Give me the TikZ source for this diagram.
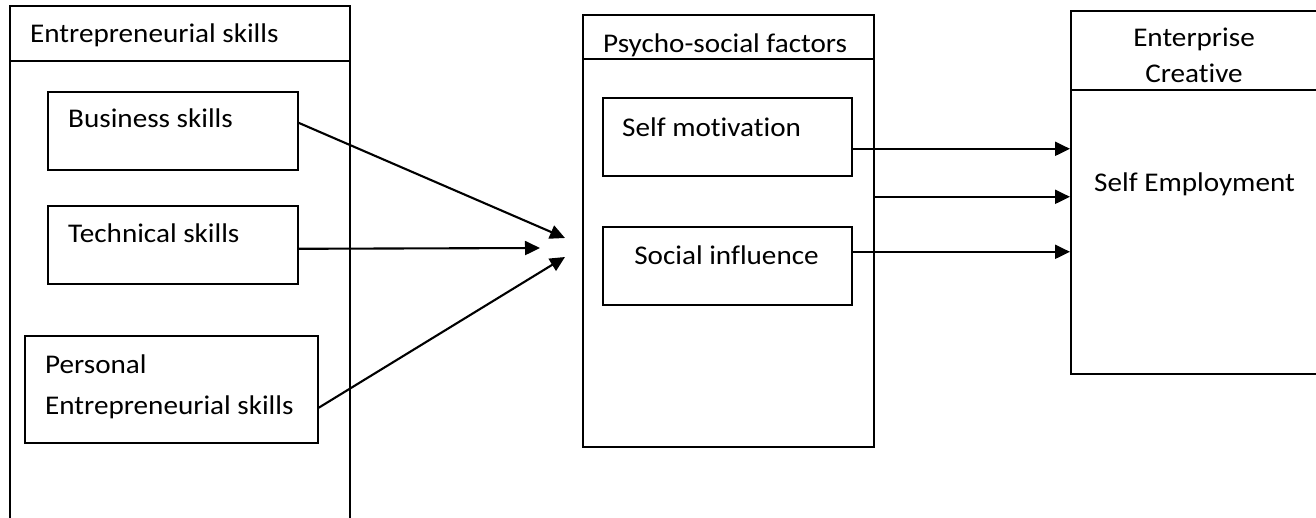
\documentclass[tikz,border=0pt]{standalone}
\usepackage{fontspec}
\setmainfont{Carlito}[FakeStretch=1.08, Ligatures=NoCommon]
\usetikzlibrary{arrows.meta,calc}
\begin{document}
\begin{tikzpicture}[x=1pt,y=-1pt,
  box/.style={draw, line width=1.6pt, inner sep=0pt, anchor=north west},
  sep/.style={line width=1.6pt},
  lbl/.style={inner sep=0pt, anchor=base west, font=\fontsize{27}{31}\selectfont},
  clbl/.style={lbl, anchor=base},
  arr/.style={line width=2.1pt, -{Triangle[length=15pt,width=14pt]}}]
\useasboundingbox (0,0) rectangle (1316,518);
\clip (0,0) rectangle (1316,518);
% left group
\node[box, minimum width=340pt, minimum height=540pt] (es) at (9,5) {};
\draw[sep] ($(es.north west)+(0,56)$) -- ($(es.north east)+(0,56)$);
\node[lbl] (tes) at (30,43) {Entrepreneurial skills};
\node[box, minimum width=250pt, minimum height=78pt] (bs) at (47,91) {};
\node[lbl] (tbs) at (68,128) {Business skills};
\node[box, minimum width=250pt, minimum height=78pt] (ts) at (47,205) {};
\node[lbl] (tts) at (68,243) {Technical skills};
\node[box, minimum width=293pt, minimum height=107pt] (pe) at (24,335) {};
\node[lbl] (tpe1) at (45,373) {Personal};
\node[lbl] (tpe2) at (45,414) {Entrepreneurial skills};
% middle group
\node[box, minimum width=291pt, minimum height=432pt] (ps) at (582,14) {};
\draw[sep] ($(ps.north west)+(0,45)$) -- ($(ps.north east)+(0,45)$);
\node[lbl] (tps) at (603,53) {Psycho-social factors};
\node[box, minimum width=249pt, minimum height=78pt] (sm) at (602,97) {};
\node[lbl] (tsm) at (622,137) {Self motivation};
\node[box, minimum width=249pt, minimum height=78pt] (si) at (602,226) {};
\node[clbl] (tsi) at (726.5,265) {Social influence};
% right group
\node[box, minimum width=250pt, minimum height=363pt] (ec) at (1070,10) {};
\draw[sep] ($(ec.north west)+(0,80)$) -- ($(ec.north east)+(0,80)$);
\node[clbl] (tec1) at (1194,47) {Enterprise};
\node[clbl] (tec2) at (1194,83) {Creative};
\node[lbl] (tse) at (1094,192) {Self Employment};
% left arrows
\coordinate (t1) at (565,238);
\coordinate (t2) at (540,248);
\coordinate (t3) at (565,257);
\draw[arr] ([yshift=8pt]bs.east) -- (t1);
\draw[arr] ([yshift=-4pt]ts.east) -- (t2);
\draw[arr] ([yshift=-18.5pt]pe.east) -- (t3);
% right arrows
\coordinate (a1) at ([yshift=-12pt]sm.east);
\coordinate (a2) at ([yshift=34pt]ps.east);
\coordinate (a3) at ([yshift=14pt]si.east);
\draw[arr] (a1) -- (a1 -| ec.west);
\draw[arr] (a2) -- (a2 -| ec.west);
\draw[arr] (a3) -- (a3 -| ec.west);
\end{tikzpicture}
\end{document}
